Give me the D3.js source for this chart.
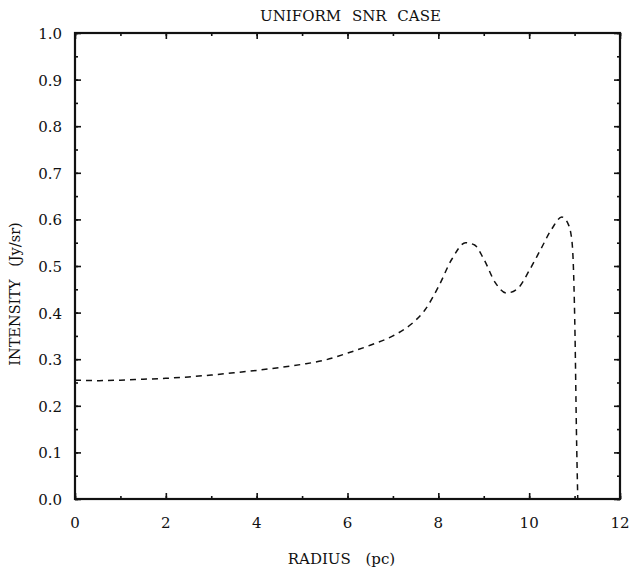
<!DOCTYPE html>
<html>
<head>
<meta charset="utf-8">
<script src="https://cdn.jsdelivr.net/npm/d3@7"></script>
<style>
  body { margin: 0; background: #fff; }
  svg text { font-family: "DejaVu Serif", serif; fill: #111; }
</style>
</head>
<body>
<div id="chart"></div>
<script>
// curve
const radius = [0, 0.5, 1, 1.5, 2, 2.5, 3, 3.5, 4, 4.5, 5, 5.5, 6, 6.5, 7, 7.4, 7.7, 8.0, 8.3, 8.6, 8.8, 9.0, 9.25, 9.5, 9.75, 10.0, 10.25, 10.5, 10.72, 10.85, 10.94, 10.98, 11.01, 11.04, 11.07];
const intensity = [0.255, 0.254, 0.255, 0.257, 0.259, 0.262, 0.266, 0.271, 0.276, 0.282, 0.289, 0.298, 0.313, 0.33, 0.35, 0.375, 0.405, 0.455, 0.515, 0.55, 0.545, 0.515, 0.465, 0.442, 0.452, 0.49, 0.535, 0.58, 0.605, 0.592, 0.555, 0.48, 0.35, 0.15, 0.0];
const xTicks = [0, 2, 4, 6, 8, 10, 12];
const yTicks = [0, 0.1, 0.2, 0.3, 0.4, 0.5, 0.6, 0.7, 0.8, 0.9, 1.0];

const W = 631, H = 571;
const margin = { top: 33, right: 11, bottom: 72, left: 75 };
const width = W - margin.left - margin.right;
const height = H - margin.top - margin.bottom;

const svg = d3.select('#chart').append('svg')
  .attr('width', W).attr('height', H);

const g = svg.append('g')
  .attr('transform', `translate(${margin.left}, ${margin.top})`);

const x = d3.scaleLinear().domain([0, 12]).range([0, width]);
const y = d3.scaleLinear().domain([0, 1]).range([height, 0]);

// inward ticks on all four sides, minor ones half way
const minorX = d3.range(0, 12.01, 1);
const minorY = d3.range(0, 1.001, 0.05);

function tickAxis(axis, scale, values, size) {
  return axis(scale).tickValues(values).tickSize(size).tickFormat('');
}

const axes = [
  { a: d3.axisBottom, s: x, t: [0, height] },
  { a: d3.axisTop, s: x, t: [0, 0] },
  { a: d3.axisLeft, s: y, t: [0, 0] },
  { a: d3.axisRight, s: y, t: [width, 0] },
];
axes.forEach(d => {
  const isX = d.s === x;
  const major = isX ? xTicks : yTicks;
  const minor = isX ? minorX : minorY;
  [[minor, 3], [major, 6]].forEach(([vals, len]) => {
    g.append('g')
      .attr('transform', `translate(${d.t[0]}, ${d.t[1]})`)
      .call(tickAxis(d.a, d.s, vals, -len))
      .call(s => s.select('.domain').remove())
      .call(s => s.selectAll('line').attr('stroke', '#111').attr('stroke-width', 1.6));
  });
});

// frame
g.append('rect')
  .attr('width', width).attr('height', height)
  .attr('fill', 'none').attr('stroke', '#111').attr('stroke-width', 2.2);

// tick labels
g.selectAll('.xlab').data(xTicks).join('text')
  .attr('class', 'xlab')
  .attr('x', d => x(d)).attr('y', height + 29)
  .attr('text-anchor', 'middle')
  .style('font-size', '15px')
  .text(d => d);

g.selectAll('.ylab').data(yTicks).join('text')
  .attr('class', 'ylab')
  .attr('x', -13).attr('y', d => y(d) + 6)
  .attr('text-anchor', 'end')
  .style('font-size', '15px')
  .text(d => d.toFixed(1));

// dashed curve
const pts = radius.map((r, i) => ({ r, v: intensity[i] }));
const line = d3.line()
  .x(d => x(d.r)).y(d => y(d.v))
  .curve(d3.curveMonotoneX);

g.append('path')
  .datum(pts)
  .attr('d', line)
  .attr('fill', 'none')
  .attr('stroke', '#111')
  .attr('stroke-width', 1.5)
  .attr('stroke-dasharray', '6,5');

// titles
svg.append('text')
  .attr('x', margin.left + width / 2 + 3).attr('y', 21)
  .attr('text-anchor', 'middle')
  .style('font-size', '15px')
  .style('word-spacing', '6px')
  .text('UNIFORM SNR CASE');

svg.append('text')
  .attr('x', margin.left + width / 2 - 6).attr('y', 564)
  .attr('text-anchor', 'middle')
  .style('font-size', '15px')
  .style('word-spacing', '10px')
  .text('RADIUS (pc)');

svg.append('text')
  .attr('transform', 'translate(20, 294) rotate(-90)')
  .attr('text-anchor', 'middle')
  .style('font-size', '14.5px')
  .style('word-spacing', '8px')
  .text('INTENSITY (Jy/sr)');
</script>
</body>
</html>
